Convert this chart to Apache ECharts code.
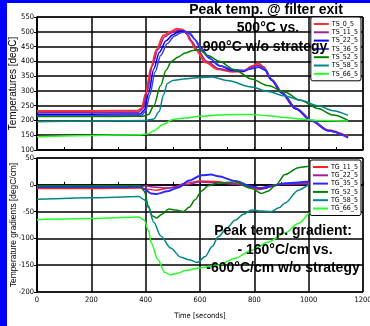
<!DOCTYPE html>
<html lang="en">

<head>
  <meta charset="UTF-8">
  <title>Temperatures / gradients</title>
  <style>
    body {
      margin: 0;
      background: #fff;
    }

    #chart {
      width: 370px;
      height: 326px;
    }
  </style>
</head>

<body>
  <div id="chart"></div>

  <script src="https://cdn.jsdelivr.net/npm/echarts@6/dist/echarts.min.js"></script>
  <script>
    // temperatures [degC], pairs of [time s, value]
    const TS_0_5 = [[0, 232], [200, 232], [370, 233], [385, 240], [400, 290], [420, 380], [440, 440], [465, 487], [490, 500], [515, 510], [535, 508], [550, 495], [565, 470], [585, 438], [620, 397], [665, 373], [720, 365], [760, 366], [790, 383], [815, 393], [835, 381], [860, 340], [900, 295], [950, 242], [1010, 200], [1070, 168], [1145, 145]];
    const TS_11_5 = [[0, 227], [200, 227], [375, 228], [390, 240], [405, 295], [425, 385], [445, 440], [470, 483], [495, 497], [520, 505], [540, 502], [555, 490], [570, 468], [590, 440], [625, 400], [670, 375], [720, 367], [760, 367], [790, 380], [815, 387], [835, 377], [860, 340], [900, 293], [950, 240], [1010, 198], [1070, 165], [1145, 143]];
    const TS_22_5 = [[0, 221], [200, 221], [380, 222], [395, 235], [410, 290], [430, 375], [450, 430], [475, 470], [500, 490], [525, 502], [545, 502], [560, 495], [580, 475], [600, 448], [630, 415], [670, 385], [720, 370], [760, 367], [790, 375], [815, 380], [840, 370], [865, 335], [905, 290], [955, 238], [1015, 197], [1075, 165], [1145, 142]];
    const TS_36_5 = [[0, 216], [200, 216], [385, 217], [400, 232], [415, 285], [435, 365], [455, 420], [480, 460], [505, 485], [530, 497], [550, 500], [565, 493], [585, 470], [605, 443], [635, 410], [675, 385], [725, 372], [765, 370], [795, 377], [818, 382], [840, 372], [865, 338], [905, 292], [955, 240], [1015, 198], [1075, 164], [1145, 141]];
    const TS_52_5 = [[0, 213], [200, 213], [390, 214], [410, 220], [430, 250], [455, 318], [475, 370], [495, 400], [520, 415], [545, 428], [575, 437], [595, 440], [630, 420], [670, 400], [730, 370], [790, 340], [850, 318], [913, 295], [970, 268], [1034, 240], [1090, 218], [1145, 200]];
    const TS_58_5 = [[0, 196], [200, 198], [400, 200], [430, 205], [450, 230], [465, 285], [480, 325], [500, 335], [540, 340], [600, 345], [645, 347], [700, 335], [790, 313], [850, 298], [913, 283], [970, 268], [1034, 250], [1090, 233], [1145, 217]];
    const TS_66_5 = [[0, 145], [200, 149], [380, 152], [410, 155], [430, 165], [465, 187], [500, 203], [540, 208], [600, 214], [667, 218], [730, 220], [791, 220], [850, 216], [913, 210], [970, 205], [1034, 200], [1090, 199], [1145, 198]];

    // temperature gradients [degC/cm]
    const TG_11_5 = [[0, -7], [200, -7], [380, -6], [400, -8], [440, -10], [500, -5], [545, 3], [600, 7], [650, 6], [730, 2], [790, -5], [815, -9], [840, -7], [876, 0], [950, 3], [1012, 4], [1080, 4], [1145, 3]];
    const TG_22_5 = [[0, -3], [200, -3], [380, -3], [400, -2], [430, -4], [480, -6], [545, 0], [600, 5], [660, 4], [730, 1], [790, -3], [820, -6], [850, -3], [900, 1], [1012, 2], [1145, 2]];
    const TG_35_5 = [[0, -4], [200, -4], [380, -4], [395, -8], [420, -16], [440, -17], [480, -12], [520, -5], [560, 8], [606, 18], [640, 19], [667, 16], [730, 7], [790, -3], [826, -7], [860, -3], [913, 3], [1012, 6], [1080, 6], [1145, 5]];
    const TG_52_5 = [[0, -2], [200, -2], [380, -2], [395, -12], [410, -40], [425, -58], [440, -62], [460, -55], [485, -45], [510, -47], [538, -50], [560, -42], [582, -28], [605, -12], [630, -2], [667, 4], [729, 5], [790, -7], [826, -16], [850, -12], [880, 0], [913, 19], [962, 32], [1012, 35], [1080, 36], [1145, 36]];
    const TG_58_5 = [[0, -27], [200, -24], [375, -22], [395, -28], [410, -42], [430, -70], [455, -95], [492, -118], [529, -135], [560, -140], [590, -145], [619, -134], [645, -115], [667, -97], [700, -80], [729, -66], [760, -55], [790, -47], [826, -49], [863, -50], [890, -43], [913, -34], [962, -10], [1012, 2], [1080, 10], [1145, 12]];
    const TG_66_5 = [[0, -65], [200, -63], [375, -60], [395, -66], [410, -85], [421, -109], [445, -140], [470, -163], [490, -168], [520, -165], [545, -160], [600, -155], [667, -150], [730, -137], [790, -122], [850, -107], [913, -90], [962, -72], [1012, -50], [1080, -30], [1145, -15]];

    const tsSeries = [
      { name: 'TS_0_5', data: TS_0_5, color: '#ff3030', width: 2 },
      { name: 'TS_11_5', data: TS_11_5, color: '#a020a0', width: 1.5 },
      { name: 'TS_22_5', data: TS_22_5, color: '#0000ff', width: 1.5 },
      { name: 'TS_36_5', data: TS_36_5, color: '#3a3aff', width: 1.5 },
      { name: 'TS_52_5', data: TS_52_5, color: '#008000', width: 1.5 },
      { name: 'TS_58_5', data: TS_58_5, color: '#008888', width: 1.5 },
      { name: 'TS_66_5', data: TS_66_5, color: '#22ff22', width: 1.5 },
    ];
    const tgSeries = [
      { name: 'TG_11_5', data: TG_11_5, color: '#ff2020', width: 1.5 },
      { name: 'TG_22_5', data: TG_22_5, color: '#a020a0', width: 1.5 },
      { name: 'TG_35_5', data: TG_35_5, color: '#2a2aff', width: 2 },
      { name: 'TG_52_5', data: TG_52_5, color: '#008000', width: 1.5 },
      { name: 'TG_58_5', data: TG_58_5, color: '#008888', width: 1.5 },
      { name: 'TG_66_5', data: TG_66_5, color: '#22ff22', width: 1.5 },
    ];

    const narrow = '"DejaVu Sans Condensed", "Liberation Sans", sans-serif';
    const tickFont = {
      fontFamily: narrow,
      fontSize: 7.5,
      color: '#000',
    };
    const blackLine = { color: '#000', width: 1.5 };

    const makeLegend = (items, top) => ({
      data: items.map(_ => _.name),
      orient: 'vertical',
      right: 9,
      top,
      icon: 'rect',
      itemWidth: 15,
      itemHeight: 2,
      itemGap: 0.3,
      padding: [3, 3, 3, 3],
      backgroundColor: '#fff',
      borderColor: '#000',
      borderWidth: 1,
      borderRadius: 2,
      textStyle: {
        fontFamily: narrow,
        fontSize: 7,
        lineHeight: 8,
        color: '#000',
        padding: [0, 0, 0, -2],
      },
    });

    const makeLines = (items, idx) => items.map(_ => ({
      name: _.name,
      type: 'line',
      xAxisIndex: idx,
      yAxisIndex: idx,
      data: _.data,
      smooth: 0.3,
      smoothMonotone: 'x',
      showSymbol: false,
      color: _.color,
      lineStyle: { color: _.color, width: _.width },
    }));

    const xAxisBase = {
      type: 'value',
      min: 0,
      max: 1200,
      interval: 200,
      axisLine: { lineStyle: blackLine },
      axisTick: { inside: true, length: 3, lineStyle: { color: '#000' } },
      minorTick: { show: true, splitNumber: 2, length: 3, lineStyle: { color: '#000' } },
      splitLine: { lineStyle: blackLine },
    };

    const yAxisBase = {
      type: 'value',
      nameLocation: 'middle',
      nameMoveOverlap: false,
      nameGap: 19,
      nameTextStyle: { fontFamily: '"Liberation Sans", sans-serif', color: '#000' },
      axisLine: { show: true, lineStyle: blackLine },
      axisTick: { show: true, length: 3, lineStyle: { color: '#000' } },
      axisLabel: { ...tickFont, margin: 3 },
      splitLine: { lineStyle: blackLine },
    };

    const bold = 'bold 14px "Liberation Sans", sans-serif';
    const note = (text, x, y) => ({
      type: 'text',
      x,
      y,
      z: 100,
      style: { text, font: bold, fill: '#000', textAlign: 'center', textVerticalAlign: 'middle' },
    });

    const chart = echarts.init(document.getElementById('chart'));
    chart.setOption({
      animation: false,
      grid: [
        { left: 37, right: 7, top: 17, height: 133, outerBoundsMode: 'none', show: true, borderColor: '#000', borderWidth: 1 },
        { left: 37, right: 7, top: 158, height: 134, outerBoundsMode: 'none', show: true, borderColor: '#000', borderWidth: 1 },
      ],
      xAxis: [
        { ...xAxisBase, gridIndex: 0, axisLabel: { show: false } },
        {
          ...xAxisBase,
          gridIndex: 1,
          axisLabel: { ...tickFont, margin: 4, formatter: v => String(v) },
          name: 'Time [seconds]',
          nameLocation: 'middle',
          nameMoveOverlap: false,
          nameGap: 20,
          nameTextStyle: { fontFamily: narrow, fontSize: 7.5, color: '#000' },
        },
      ],
      yAxis: [
        {
          ...yAxisBase,
          gridIndex: 0,
          min: 100,
          max: 550,
          interval: 50,
          name: 'Temperatures [degC]',
          nameTextStyle: { ...yAxisBase.nameTextStyle, fontSize: 10 },
        },
        {
          ...yAxisBase,
          gridIndex: 1,
          min: -200,
          max: 50,
          interval: 50,
          name: 'Temperature gradients [degC/cm]',
          nameTextStyle: { ...yAxisBase.nameTextStyle, fontSize: 8.4 },
        },
      ],
      legend: [makeLegend(tsSeries, 17), makeLegend(tgSeries, 160)],
      series: [...makeLines(tsSeries, 0), ...makeLines(tgSeries, 1)],
      graphic: [
        { type: 'rect', z: 200, shape: { x: 0, y: 0, width: 7, height: 326 }, style: { fill: '#0000ff' } },
        { type: 'rect', z: 200, shape: { x: 0, y: 0, width: 370, height: 3 }, style: { fill: '#0000ff' } },
        note('Peak temp. @ filter exit', 266, 10),
        note('500°C vs.', 268, 28),
        note('900°C w/o strategy', 265, 47),
        note('Peak temp. gradient:', 283, 231),
        note('- 160°C/cm vs.', 285, 250),
        note('-600°C/cm w/o strategy', 283, 268),
      ],
    });
  </script>
</body>

</html>
